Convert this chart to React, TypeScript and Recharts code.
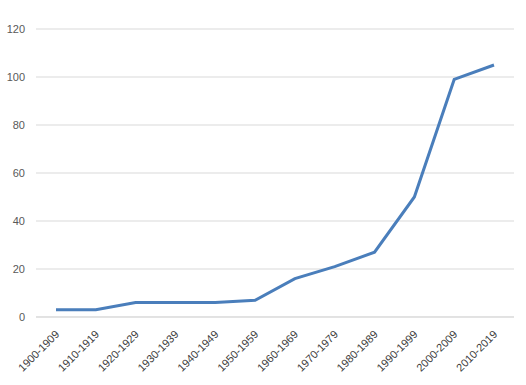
import React from "react";
import { LineChart, Line, XAxis, YAxis, CartesianGrid } from "recharts";

const categories = [
  "1900-1909", "1910-1919", "1920-1929", "1930-1939", "1940-1949", "1950-1959",
  "1960-1969", "1970-1979", "1980-1989", "1990-1999", "2000-2009", "2010-2019",
];
const values = [3, 3, 6, 6, 6, 7, 16, 21, 27, 50, 99, 105];
const yTicks = [0, 20, 40, 60, 80, 100, 120];

const data = categories.map((c, i) => ({ name: c, value: values[i] }));

const FONT = "'Liberation Sans', Arial, sans-serif";

const XTick = (props: any) => {
  const { x, y, payload } = props;
  const ax = x + 4;
  const ay = y + 10;
  return (
    <text
      x={ax}
      y={ay}
      transform={`rotate(-45, ${ax}, ${ay})`}
      textAnchor="end"
      fontSize={11}
      fontFamily={FONT}
      fill="#404040"
    >
      {payload.value}
    </text>
  );
};

export default function App() {
  return (
    <div style={{ position: "absolute", left: 0, top: 0, background: "#fff" }}>
      <LineChart
        width={526}
        height={385}
        data={data}
        margin={{ top: 29, right: 12, bottom: 0, left: 0 }}
      >
        <CartesianGrid vertical={false} stroke="#d9d9d9" />
        <XAxis
          dataKey="name"
          interval={0}
          height={68}
          padding={{ left: 20, right: 20 }}
          tickLine={false}
          axisLine={{ stroke: "#d9d9d9" }}
          tick={<XTick />}
        />
        <YAxis
          width={36}
          domain={[0, 120]}
          ticks={yTicks}
          axisLine={false}
          tickLine={false}
          tickMargin={5}
          tick={{ fontSize: 11, fontFamily: FONT, fill: "#595959" }}
        />
        <Line
          type="linear"
          dataKey="value"
          stroke="#4a7ebb"
          strokeWidth={3}
          dot={false}
          isAnimationActive={false}
        />
      </LineChart>
    </div>
  );
}
